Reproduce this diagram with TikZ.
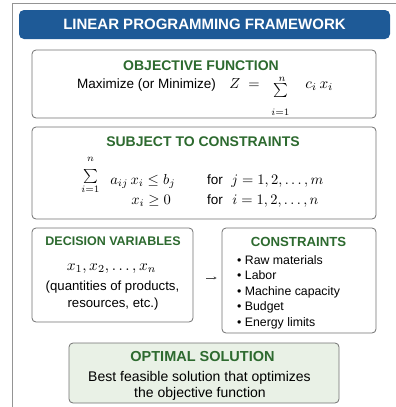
\RequirePackage{fix-cm}
\documentclass[tikz,border=0pt]{standalone}
\usepackage{amsmath,amssymb}
\usepackage{fontspec}
\setmainfont{Liberation Sans}
\usetikzlibrary{arrows.meta}
\definecolor{barblue}{HTML}{1E5A97}
\definecolor{headgreen}{HTML}{2D6A2F}
\definecolor{boxline}{HTML}{707070}
\definecolor{solfill}{HTML}{E9F1E6}

\begin{document}
\begin{tikzpicture}[x=1pt,y=-1pt,
	panel/.style={draw=boxline,line width=0.8pt,rounded corners=4pt,fill=white},
	heading/.style={text=headgreen,font=\fontsize{13.5}{15}\selectfont\bfseries,inner sep=0pt},
	body/.style={font=\fontsize{13.5}{15}\selectfont,inner sep=0pt,anchor=base},
	mathtxt/.style={font=\fontsize{10}{12}\selectfont,scale=1.45,transform shape,inner sep=0pt,anchor=base west},
	sumsign/.style={font=\fontsize{10}{12}\selectfont,scale=1.4,transform shape,inner sep=0pt}]
	\useasboundingbox (0,0) rectangle (396,407);
	\begin{scope}
		\clip (0,0) rectangle (396,407);
		\draw[draw=boxline!75,line width=0.8pt] (12,3) rectangle (430,440);
	\end{scope}
	% title bar
	\node (bar) [fill=barblue,rounded corners=5pt,minimum width=371pt,minimum height=29pt,
		text=white,font=\fontsize{15}{17}\selectfont\bfseries] at (204.5,24.5) {LINEAR PROGRAMMING FRAMEWORK};
	% objective
	\node (obj) [panel,minimum width=344pt,minimum height=68pt] at (204,84) {};
	\node (objh) [heading,font=\fontsize{14}{16}\selectfont\bfseries] at (201,65.5) {OBJECTIVE FUNCTION};
	\node (objt) [body,anchor=base west] at (77,88) {Maximize (or Minimize)};
	\node (objz) [mathtxt] at (229,88) {$Z \;=$};
	\node (objs) [sumsign] at (280.5,90) {$\textstyle\sum$};
	\node (objn) [sumsign] at (282,79.5) {$\scriptstyle n$};
	\node (obji) [sumsign] at (280.5,112.5) {$\scriptstyle i=1$};
	\node (objc) [mathtxt,scale=1.05] at (305,88) {$c_i\,x_i$};
	% constraints in math form
	\node (st) [panel,minimum width=344pt,minimum height=92pt] at (204,173) {};
	\node (sth) [heading,font=\fontsize{14}{16}\selectfont\bfseries] at (203,142) {SUBJECT TO CONSTRAINTS};
	\node (sts) [sumsign] at (90.5,176.5) {$\textstyle\sum$};
	\node (stn) [sumsign] at (90.5,159.5) {$\scriptstyle n$};
	\node (sti) [sumsign] at (90.5,189.5) {$\scriptstyle i=1$};
	\node (st1) [mathtxt] at (110,184) {$a_{ij}\,x_i \le b_j$};
	\node (st2) [mathtxt] at (131,204) {$x_i \ge 0$};
	\node (for1) [body,anchor=base west] at (207,184) {for};
	\node (for2) [body,anchor=base west] at (207,204) {for};
	\node (rng1) [mathtxt] at (231,184) {$j = 1, 2, \ldots, m$};
	\node (rng2) [mathtxt] at (232,204) {$i = 1, 2, \ldots, n$};
	% decision variables
	\node (dv) [panel,minimum width=161pt,minimum height=94pt] at (112.5,275) {};
	\node (dvh) [heading,font=\fontsize{12.5}{14}\selectfont\bfseries] at (113,241.5) {DECISION VARIABLES};
	\node (dvx) [mathtxt,anchor=base,scale=1.06] at (111.5,270) {$x_1, x_2, \ldots, x_n$};
	\node (dvt1) [body,font=\fontsize{13.2}{15}\selectfont] at (112.5,290) {(quantities of products,};
	\node (dvt2) [body,font=\fontsize{13.2}{15}\selectfont] at (113,307) {resources, etc.)};
	% constraint list
	\node (cons) [panel,minimum width=154pt,minimum height=105pt] at (299,280.5) {};
	\node (consh) [heading,font=\fontsize{13.2}{15}\selectfont\bfseries] at (298.5,242) {CONSTRAINTS};
	\foreach \entry [count=\k] in {Raw materials,Labor,Machine capacity,Budget,Energy limits}
		\node (item\k) [body,anchor=base west,font=\fontsize{12.3}{14}\selectfont] at (237,{248.5+15.5*\k}) {\textbullet\ \entry};
	\coordinate (dvr) at (206,278);
	\draw[-{Stealth[length=3pt,width=3pt]},boxline!70!black,line width=0.7pt,shorten >=5pt] (dvr) -- (cons.west |- dvr);
	% optimal solution
	\node (opt) [panel,fill=solfill,minimum width=270pt,minimum height=60pt] at (204,373) {};
	\node (opth) [heading,font=\fontsize{14.5}{16}\selectfont\bfseries] at (202.5,357) {OPTIMAL SOLUTION};
	\node (optt1) [body,font=\fontsize{14}{16}\selectfont] at (199.5,381) {Best feasible solution that optimizes};
	\node (optt2) [body,font=\fontsize{14}{16}\selectfont] at (200,397) {the objective function};
\end{tikzpicture}
\end{document}
